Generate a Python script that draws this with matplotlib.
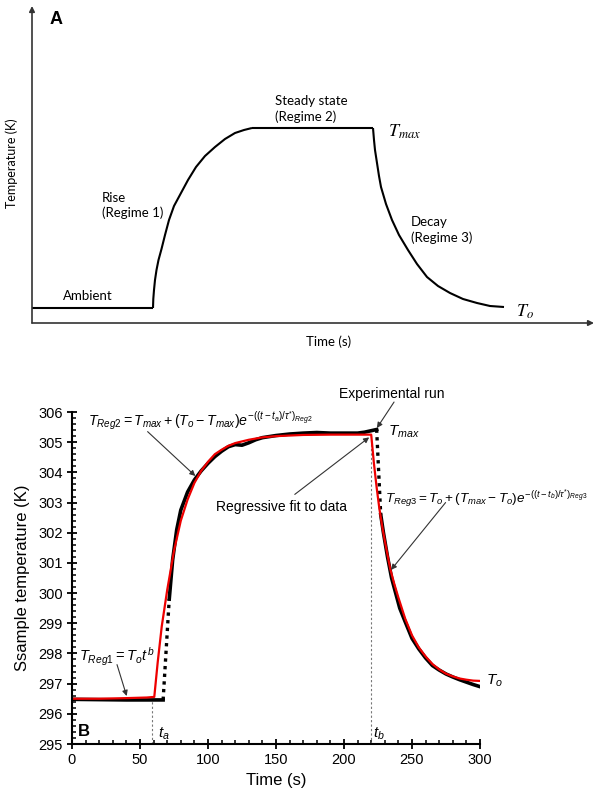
import matplotlib
matplotlib.use("Agg")
import matplotlib.pyplot as plt
from matplotlib.ticker import MultipleLocator

plt.rcParams['font.family'] = ['Liberation Sans', 'DejaVu Sans']
plt.rcParams['mathtext.fontset'] = 'custom'
plt.rcParams['mathtext.it'] = 'Liberation Sans:italic'
plt.rcParams['mathtext.rm'] = 'Liberation Sans'
plt.rcParams['mathtext.sf'] = 'Liberation Sans'

# ---------------- Panel A: schematic (arbitrary units) ----------------
a_ambient_t = [0, 121]
a_ambient_T = [15, 15]
a_rise_t = [121, 121.3, 122, 123, 124.5, 126.5, 129.5, 133, 137, 142, 149,
            156, 164, 173, 183, 193, 203, 212, 220]
a_rise_T = [15, 24, 33, 43, 53, 63, 74, 88, 103, 117, 130, 143, 156, 167,
            176, 184, 190, 193, 195]
a_steady_t = [220, 341]
a_steady_T = [195, 195]
a_decay_t = [341, 342, 343, 345, 347, 349, 354, 360, 367, 376, 385, 395, 406,
             418, 431, 445, 458, 472]
a_decay_T = [195, 183, 173, 160, 147, 136, 119, 103, 88, 73, 59, 46, 37, 30,
             24, 20, 17, 16]

# ---------------- Panel B: data ----------------
exp1_t = [0, 20, 40, 55, 67]
exp1_T = [296.48, 296.47, 296.46, 296.46, 296.46]
exp_rise_dot_t = [67, 71.5]
exp_rise_dot_T = [296.46, 299.8]
exp2_t = [71.5, 74, 77, 80, 85, 90, 95, 100, 105, 110, 115, 120, 125, 130,
          135, 140, 150, 160, 170, 180, 190, 200, 210, 215, 220, 224]
exp2_T = [299.8, 301.1, 302.1, 302.75, 303.35, 303.75, 304.05, 304.3, 304.52,
          304.7, 304.85, 304.92, 304.9, 304.98, 305.08, 305.15, 305.22, 305.27,
          305.3, 305.32, 305.3, 305.3, 305.3, 305.33, 305.38, 305.42]
exp_drop_dot_t = [224, 227]
exp_drop_dot_T = [305.42, 302.6]
exp3_t = [227, 229, 232, 235, 238, 241, 245, 250, 255, 260, 265, 270, 275,
          280, 285, 290, 295, 300]
exp3_T = [302.6, 302.0, 301.2, 300.5, 300.0, 299.5, 299.05, 298.5, 298.15,
          297.85, 297.6, 297.45, 297.32, 297.22, 297.13, 297.05, 296.97, 296.9]

fit_t = [0, 20, 40, 55, 60.5, 63, 66, 70, 75, 80, 85, 90, 95, 100, 105, 110,
         115, 120, 130, 140, 150, 170, 190, 220,
         222, 224, 226, 228.5, 231, 234, 237, 240, 245, 250, 255, 260, 265,
         270, 275, 280, 285, 290, 295, 300]
fit_T = [296.50, 296.50, 296.52, 296.54, 296.56, 297.7, 298.9, 300.1, 301.4,
         302.4, 303.1, 303.65, 304.05, 304.35, 304.6, 304.75, 304.88, 304.97,
         305.08, 305.16, 305.2, 305.24, 305.25, 305.25,
         304.3, 303.5, 302.8, 302.1, 301.5, 300.8, 300.3, 299.85, 299.15,
         298.6, 298.2, 297.9, 297.65, 297.47, 297.33, 297.24, 297.17, 297.13,
         297.1, 297.09]

t_a = 59
t_b = 220
T_amb = 296.5
T_max = 305.25

x_ticks = [0, 50, 100, 150, 200, 250, 300]
y_ticks = [295, 296, 297, 298, 299, 300, 301, 302, 303, 304, 305, 306]

fig = plt.figure(figsize=(6, 8), dpi=100)

# ================= Panel A =================
axA = fig.add_axes([32 / 600, 1 - 323 / 800, 562 / 600, 317 / 800])
axA.set_xlim(0, 562)
axA.set_ylim(0, 317)
for s in axA.spines.values():
    s.set_visible(False)
axA.set_xticks([])
axA.set_yticks([])
axA.patch.set_alpha(0)
arrow_kw = dict(arrowstyle='-|>', color='#333333', lw=1.2, mutation_scale=8,
                shrinkA=0, shrinkB=0)
axA.annotate('', xy=(0, 1), xytext=(0, 0), xycoords='axes fraction',
             arrowprops=arrow_kw)
axA.annotate('', xy=(1, 0), xytext=(0, 0), xycoords='axes fraction',
             arrowprops=arrow_kw)
for tt, TT in [(a_ambient_t, a_ambient_T), (a_rise_t, a_rise_T),
               (a_steady_t, a_steady_T), (a_decay_t, a_decay_T)]:
    axA.plot(tt, TT, color='black', lw=1.5, solid_joinstyle='round',
             solid_capstyle='butt')

lato = ['Lato', 'DejaVu Sans']
axA.text(31, 27, 'Ambient', family=lato, fontsize=9.5, va='center', ha='left')
axA.text(70, 117.5, 'Rise\n(Regime 1)', family=lato, fontsize=9.5,
         va='center', ha='left', linespacing=1.3)
axA.text(243, 214, 'Steady state\n(Regime 2)', family=lato, fontsize=9.5,
         va='center', ha='left', linespacing=1.3)
axA.text(379, 93, 'Decay\n(Regime 3)', family=lato, fontsize=9.5,
         va='center', ha='left', linespacing=1.3)
axA.text(356, 191, r'$T_{max}$', math_fontfamily='stix', fontsize=13,
         va='center', ha='left')
axA.text(484, 11, r'$T_o$', math_fontfamily='stix', fontsize=13,
         va='center', ha='left')
fig.text(50 / 600, 1 - 19 / 800, 'A', fontsize=13, fontweight='bold',
         va='center', ha='left')
fig.text(329 / 600, 1 - 342 / 800, 'Time (s)', family=lato, fontsize=9.5,
         va='center', ha='center')
fig.text(12 / 600, 1 - 163 / 800, 'Temperature (K)', family=lato,
         fontsize=9, va='center', ha='center', rotation=90)

# ================= Panel B =================
axB = fig.add_axes([72 / 600, 56 / 800, 408 / 600, 332 / 800])
axB.set_xlim(0, 300)
axB.set_ylim(295, 306)
axB.spines['top'].set_visible(False)
axB.spines['right'].set_visible(False)
for s in ['left', 'bottom']:
    axB.spines[s].set_linewidth(1.5)
axB.set_xticks(x_ticks)
axB.set_yticks(y_ticks)
axB.xaxis.set_minor_locator(MultipleLocator(10))
axB.yaxis.set_minor_locator(MultipleLocator(0.2))
axB.tick_params(which='major', direction='inout', length=7, width=1.3,
                labelsize=10.5, pad=3)
axB.tick_params(which='minor', direction='in', length=3, width=1.1)

# guide lines
axB.plot([t_a, t_a], [295, T_amb], color='#777777', lw=0.8, ls=(0, (2, 2)))
axB.plot([t_b, t_b], [295, T_max], color='#777777', lw=0.8, ls=(0, (2, 2)))

# experimental run
axB.plot(exp1_t, exp1_T, color='black', lw=2.6)
axB.plot(exp2_t, exp2_T, color='black', lw=2.6)
axB.plot(exp3_t, exp3_T, color='black', lw=2.6)
axB.plot(exp_rise_dot_t, exp_rise_dot_T, color='black', lw=2.4,
         ls=(0, (1, 1.3)))
axB.plot(exp_drop_dot_t, exp_drop_dot_T, color='black', lw=2.4,
         ls=(0, (1, 1.3)))
# fit
axB.plot(fit_t, fit_T, color='#ee0000', lw=1.6)

axB.set_xlabel('Time (s)', fontsize=12, labelpad=4)
axB.set_ylabel('Ssample temperature (K)', fontsize=12, labelpad=6)

ann_kw = dict(arrowstyle='-|>', color='#333333', lw=0.8, mutation_scale=8,
              shrinkA=0, shrinkB=0)
axB.text(12, 305.72,
         r'$T_{Reg2} = T_{max} + (T_o - T_{max})e^{-((t-t_a)/\tau^{*})_{Reg2}}$',
         fontsize=10.2, va='center', ha='left')
axB.annotate('', xy=(90.7, 303.88), xytext=(55.6, 305.35), arrowprops=ann_kw)

axB.text(229.8, 303.16,
         r'$T_{Reg3} = T_o + (T_{max} - T_o)e^{-((t-t_b)/\tau^{*})_{Reg3}}$',
         fontsize=9.7, va='center', ha='left', clip_on=False)
axB.annotate('', xy=(234.6, 300.77), xytext=(274.7, 303.0), arrowprops=ann_kw)

axB.text(5, 297.89, r'$T_{Reg1} = T_o t^{\,b}$', fontsize=10.5,
         va='center', ha='left')
axB.annotate('', xy=(40.2, 296.59), xytext=(33.1, 297.63), arrowprops=ann_kw)

axB.text(235.4, 306.61, 'Experimental run', fontsize=10, va='center',
         ha='center', clip_on=False)
axB.annotate('', xy=(224.2, 305.47), xytext=(236.8, 306.33),
             arrowprops=ann_kw, annotation_clip=False)

axB.text(153.9, 302.85, 'Regressive fit to data', fontsize=10,
         va='center', ha='center')
axB.annotate('', xy=(218.5, 305.16), xytext=(163.8, 303.27),
             arrowprops=ann_kw)

axB.text(232, 305.33, r'$T_{max}$', fontsize=11, va='center', ha='left')
axB.text(304.2, 297.09, r'$T_o$', fontsize=11, va='center', ha='left',
         clip_on=False)
axB.text(63.2, 295.35, r'$t_a$', fontsize=11, va='center', ha='left')
axB.text(221.3, 295.35, r'$t_b$', fontsize=11, va='center', ha='left')
axB.text(4.5, 295.42, 'B', fontsize=12, fontweight='bold', va='center',
         ha='left')

fig.savefig('out.png', dpi=100)
